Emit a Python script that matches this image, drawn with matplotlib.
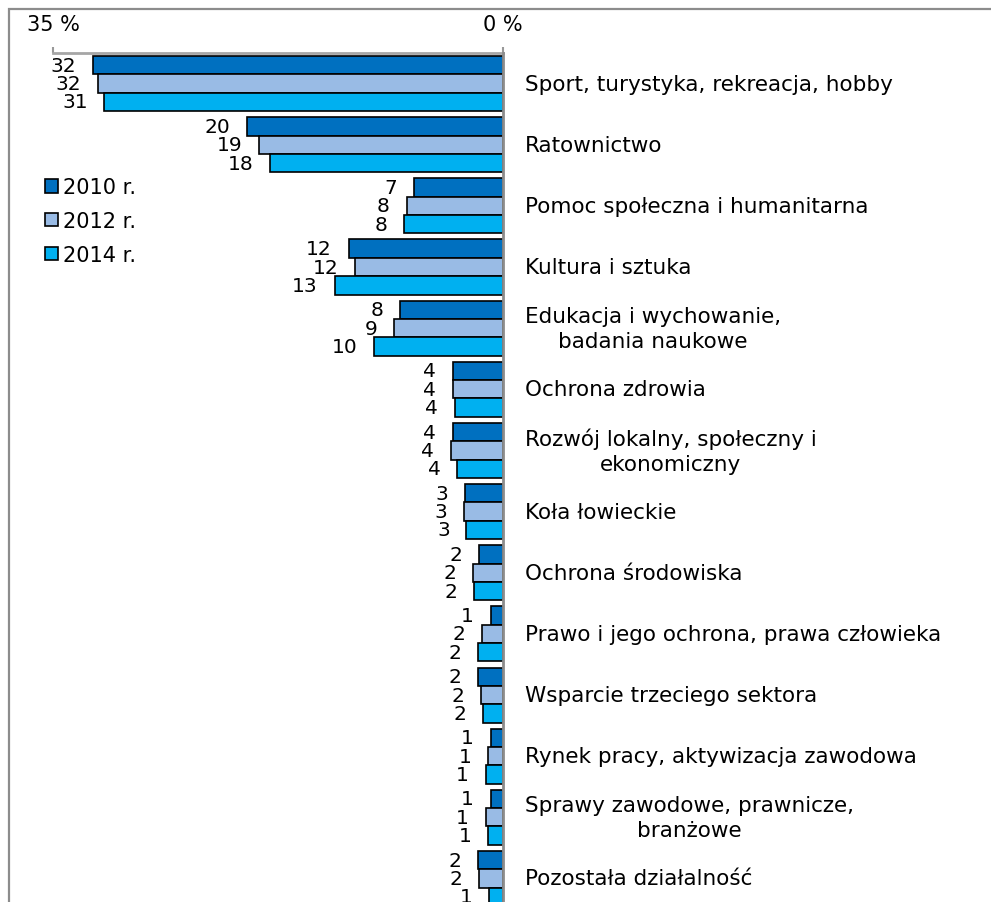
import matplotlib.pyplot as plt
import numpy as np
from matplotlib.patches import Rectangle

categories = [
    "Sport, turystyka, rekreacja, hobby",
    "Ratownictwo",
    "Pomoc społeczna i humanitarna",
    "Kultura i sztuka",
    "Edukacja i wychowanie,\nbadania naukowe",
    "Ochrona zdrowia",
    "Rozwój lokalny, społeczny i\nekonomiczny",
    "Koła łowieckie",
    "Ochrona środowiska",
    "Prawo i jego ochrona, prawa człowieka",
    "Wsparcie trzeciego sektora",
    "Rynek pracy, aktywizacja zawodowa",
    "Sprawy zawodowe, prawnicze,\nbranżowe",
    "Pozostała działalność",
]
years = ["2010 r.", "2012 r.", "2014 r."]

# bar lengths and the printed labels
v2010 = [31.9, 19.9, 6.9, 12.0, 8.0, 3.9, 3.9, 2.95, 1.9, 0.95, 1.95, 0.95, 0.95, 1.95]
v2012 = [31.5, 19.0, 7.5, 11.5, 8.5, 3.9, 4.05, 3.05, 2.35, 1.65, 1.7, 1.15, 1.35, 1.85]
v2014 = [31.0, 18.1, 7.7, 13.1, 10.0, 3.75, 3.55, 2.85, 2.25, 1.95, 1.55, 1.35, 1.15, 1.1]
lab2010 = [32, 20, 7, 12, 8, 4, 4, 3, 2, 1, 2, 1, 1, 2]
lab2012 = [32, 19, 8, 12, 9, 4, 4, 3, 2, 2, 2, 1, 1, 2]
lab2014 = [31, 18, 8, 13, 10, 4, 4, 3, 2, 2, 2, 1, 1, 1]

colors = ["#0070C0", "#99BBE5", "#00B0F0"]
series = [v2010, v2012, v2014]
labels = [lab2010, lab2012, lab2014]

W, H = 991, 903
fig = plt.figure(figsize=(W / 100, H / 100), dpi=100)
fig.patches.append(Rectangle((9 / W, -0.1), 1.1, 1 - 10 / H + 0.1, transform=fig.transFigure,
                             fill=False, edgecolor="#8c8c8c", linewidth=1.6))

ax = fig.add_axes([53 / W, 0, 450 / W, 1 - 54 / H])
y = np.arange(len(categories))
h = 0.3
for i, (vals, labs, col) in enumerate(zip(series, labels, colors)):
    ax.barh(y + (i - 1) * h, vals, height=h, color=col, edgecolor="black",
            linewidth=1.2, label=years[i], zorder=2)
    for yy, v, lab in zip(y + (i - 1) * h, vals, labs):
        ax.annotate(str(lab), (v, yy), xytext=(-12, 0), textcoords="offset points",
                    ha="right", va="center", fontsize=14.5, color="black")

ax.set_xlim(35, 0)
ax.set_ylim(13.385, -0.5)
ax.set_yticks([])
ax.xaxis.tick_top()
ax.set_xticks([35, 0])
ax.set_xticklabels(["35 %", "0 %"], fontsize=15)
ax.tick_params(axis="x", direction="out", length=4, width=1.5, color="#999999", pad=10)
for s in ["left", "bottom"]:
    ax.spines[s].set_visible(False)
ax.spines["top"].set_color("#a6a6a6")
ax.spines["top"].set_linewidth(2)
ax.spines["right"].set_color("#8c8c8c")
ax.spines["right"].set_linewidth(2)
ax.spines["right"].set_zorder(3)

for yy, cat in zip(y, categories):
    ax.text(1.049, yy, cat, transform=ax.get_yaxis_transform(), ha="left", va="center",
            multialignment="center", fontsize=15.5, linespacing=1.3, color="black",
            clip_on=False)

ax.legend(loc="upper left", bbox_to_anchor=(35 / W, 1 - 168 / H),
          bbox_transform=fig.transFigure, frameon=False, fontsize=15,
          handlelength=0.6, handleheight=0.6, handletextpad=0.25,
          labelspacing=0.65, borderpad=0)

fig.savefig("out.png", dpi=100)
